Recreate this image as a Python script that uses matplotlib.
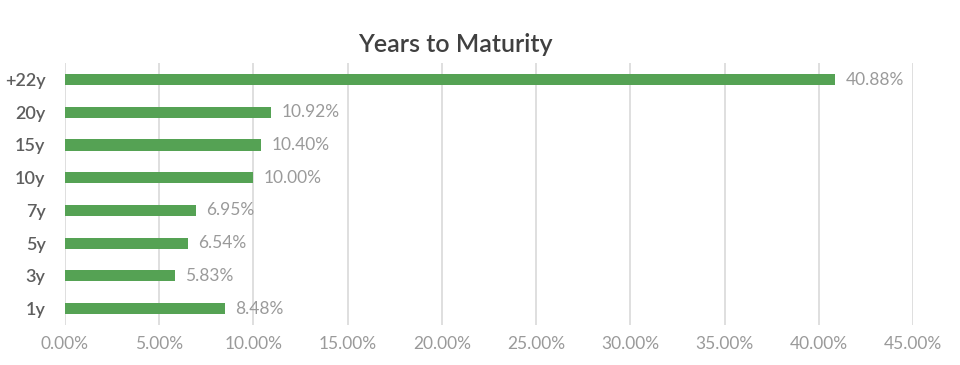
import matplotlib
matplotlib.use("Agg")
import matplotlib.pyplot as plt
from matplotlib.ticker import FuncFormatter

categories = ["1y", "3y", "5y", "7y", "10y", "15y", "20y", "+22y"]
values = [8.48, 5.83, 6.54, 6.95, 10.00, 10.40, 10.92, 40.88]
xticks = [0, 5, 10, 15, 20, 25, 30, 35, 40, 45]

plt.rcParams['font.family'] = ['Lato', 'DejaVu Sans']

fig = plt.figure(figsize=(9.6, 3.65), dpi=100)
ax = fig.add_axes([0.0677, 0.1096, 0.8833, 0.7174])

y = range(len(categories))
ax.barh(y, values, height=0.34, color="#55A254", zorder=3)
for yi, v in zip(y, values):
    ax.text(v + 0.55, yi, f"{v:.2f}%", va="center", ha="left",
            fontsize=12.5, color="#9A9A9A")

ax.set_xlim(0, 45)
ax.set_ylim(-0.5, len(categories) - 0.5)
ax.set_xticks(xticks)
ax.xaxis.set_major_formatter(FuncFormatter(lambda v, p: f"{v:.2f}%"))
ax.set_yticks(list(y))
ax.set_yticklabels(categories)
ax.grid(axis="x", color="#D9D9D9", linewidth=1.2, zorder=0)
for s in ax.spines.values():
    s.set_visible(False)
ax.tick_params(axis="both", length=0)
ax.tick_params(axis="x", labelsize=12.5, labelcolor="#9A9A9A", pad=8)
ax.tick_params(axis="y", labelsize=13, labelcolor="#5E5E5E", pad=14)
for lab in ax.get_yticklabels():
    lab.set_fontweight("semibold")

fig.text(0.474, 0.877, "Years to Maturity", ha="center", va="center",
         fontsize=18, fontweight="semibold", color="#404040")

fig.savefig("out.png", dpi=100, facecolor="white")
